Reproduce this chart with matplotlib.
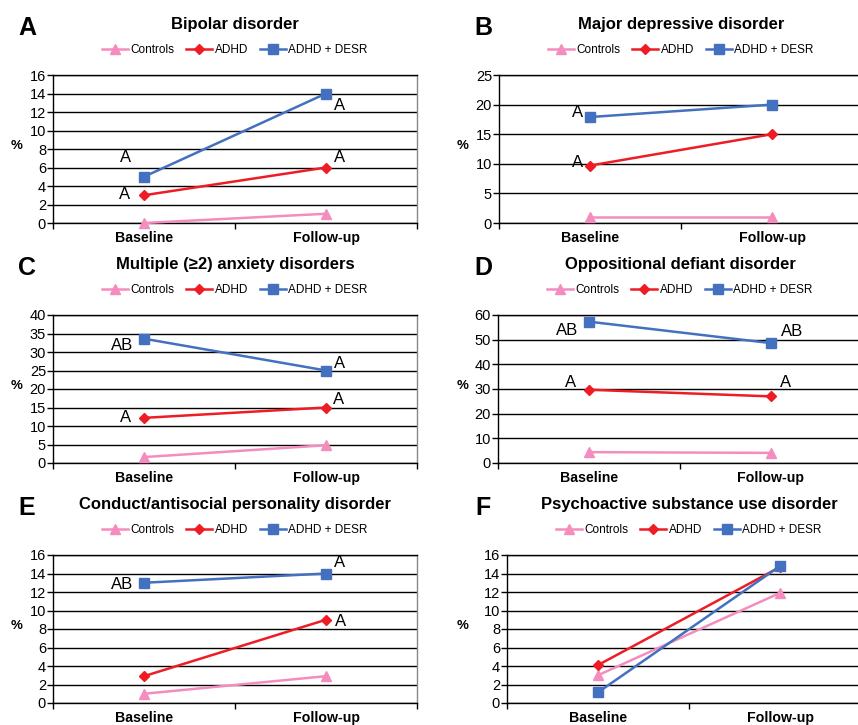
import matplotlib
matplotlib.use("Agg")
import matplotlib.pyplot as plt

plt.rcParams['font.family'] = ['Liberation Sans', 'DejaVu Sans']

timepoints = ["Baseline", "Follow-up"]
series_names = ["Controls", "ADHD", "ADHD + DESR"]

panel_letters = ["A", "B", "C", "D", "E", "F"]
panel_titles = ["Bipolar disorder", "Major depressive disorder",
                "Multiple (\u22652) anxiety disorders", "Oppositional defiant disorder",
                "Conduct/antisocial personality disorder", "Psychoactive substance use disorder"]

# values per panel: Controls, ADHD, ADHD + DESR
bipolar_controls = [0, 1]
bipolar_adhd = [3, 6]
bipolar_desr = [5, 14]

mdd_controls = [1, 1]
mdd_adhd = [9.7, 15]
mdd_desr = [17.9, 20]

anx_controls = [1.6, 4.8]
anx_adhd = [12.2, 15]
anx_desr = [33.6, 25]

odd_controls = [4.4, 4.1]
odd_adhd = [29.7, 27]
odd_desr = [57.3, 48.6]

cd_controls = [1, 2.9]
cd_adhd = [2.9, 9]
cd_desr = [13, 14]

sud_controls = [3, 11.9]
sud_adhd = [4.1, 14.7]
sud_desr = [1.15, 14.8]

y_max = [16, 25, 40, 60, 16, 16]
y_step = [2, 5, 5, 10, 2, 2]

# significance labels: (series index, timepoint index, text)
sig_labels = [
    [(2, 0, "A"), (1, 0, "A"), (2, 1, "A"), (1, 1, "A")],
    [(2, 0, "A"), (1, 0, "A")],
    [(2, 0, "AB"), (2, 1, "A"), (1, 0, "A"), (1, 1, "A")],
    [(2, 0, "AB"), (2, 1, "AB"), (1, 0, "A"), (1, 1, "A")],
    [(2, 0, "AB"), (2, 1, "A"), (1, 1, "A")],
    [],
]
# label offsets in pixels (dx, dy up)
sig_offsets = [
    [(-18, 19), (-19, 1), (14, -12), (14, 10)],
    [(-12, 5), (-12, 3)],
    [(-22, -7), (14, 7), (-18, 0), (13, 8)],
    [(-22, -9), (21, 12), (-18, 7), (15, 14)],
    [(-22, -2), (14, 11), (15, -2)],
    [],
]

panels = [
    (bipolar_controls, bipolar_adhd, bipolar_desr),
    (mdd_controls, mdd_adhd, mdd_desr),
    (anx_controls, anx_adhd, anx_desr),
    (odd_controls, odd_adhd, odd_desr),
    (cd_controls, cd_adhd, cd_desr),
    (sud_controls, sud_adhd, sud_desr),
]

colors = ["#F48DBE", "#EE1C25", "#4470C0"]
markers = ["^", "D", "s"]
msizes = [6.5, 5.5, 6.5]

W, H = 858, 725
fig = plt.figure(figsize=(W / 100, H / 100), dpi=100)

# axes boxes in pixels: left, right, top, bottom
boxes = [
    (53, 417, 75, 223), (499, 863, 75, 223),
    (53, 417, 315, 463), (498, 862, 315, 463),
    (53, 417, 555, 703), (507, 871, 555, 703),
]

px2pt = 0.72

for i, (l, r, t, b) in enumerate(boxes):
    ax = fig.add_axes([l / W, 1 - b / H, (r - l) / W, (b - t) / H])
    x = [0.5, 1.5]
    for s in range(3):
        ax.plot(x, panels[i][s], color=colors[s], marker=markers[s], markersize=msizes[s],
                linewidth=1.8, label=series_names[s], zorder=3, clip_on=False)
    ax.set_xlim(0, 2)
    ax.set_ylim(0, y_max[i])
    ax.set_yticks(range(0, y_max[i] + 1, y_step[i]))
    ax.yaxis.grid(True, color="black", linewidth=1.0)
    ax.set_axisbelow(True)
    ax.set_xticks([0, 1, 2])
    ax.set_xticklabels([])
    ax.set_xticks(x, minor=True)
    ax.set_xticklabels(timepoints, minor=True, fontweight="bold", fontsize=10.2)
    ax.tick_params(axis="x", which="minor", length=0, pad=6)
    ax.tick_params(axis="x", which="major", length=4, width=1, direction="out")
    ax.tick_params(axis="y", length=4, width=1, direction="out", labelsize=10.5, pad=1)
    for sp in ["left", "bottom", "top"]:
        ax.spines[sp].set_color("black")
        ax.spines[sp].set_linewidth(1.0)
    ax.spines["right"].set_color("#888888")
    ax.spines["right"].set_linewidth(1.0)

    ax.set_ylabel("%", rotation=0, fontweight="bold", fontsize=9.5)
    ax.yaxis.set_label_coords(-(l - (17 if l < 400 else 463)) / (r - l), 0.48)

    for (s, k, txt), (dx, dy) in zip(sig_labels[i], sig_offsets[i]):
        ax.annotate(txt, (x[k], panels[i][s][k]), xytext=(dx * px2pt, dy * px2pt),
                    textcoords="offset points", ha="center", va="center", fontsize=12)

    ax.text(0.5, 1 + 51 / (b - t), panel_titles[i], transform=ax.transAxes,
            ha="center", va="center", fontsize=12, fontweight="bold")
    ax.legend(loc="center", bbox_to_anchor=(0.5, 1 + 25 / (b - t)), ncol=3, frameon=False,
              fontsize=8.5, handlelength=2.2, handletextpad=0.2, columnspacing=1.0,
              borderaxespad=0, borderpad=0)
    lx = 27 if l < 400 else 483
    ly = t - 47
    fig.text(lx / W, 1 - ly / H, panel_letters[i], ha="center", va="center",
             fontsize=18, fontweight="bold")

fig.savefig("out.png", dpi=100)
